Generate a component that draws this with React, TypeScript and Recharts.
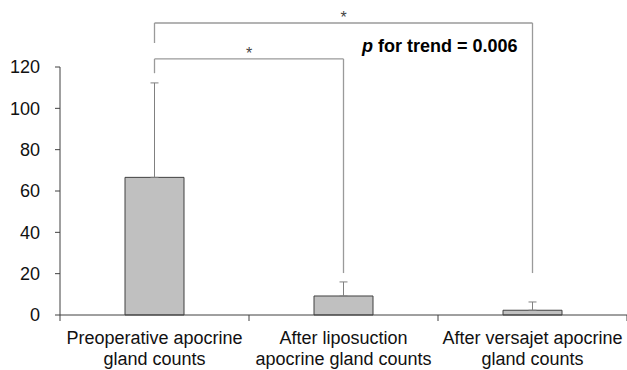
import React from "react";
import { Bar, BarChart, ErrorBar, ReferenceLine, XAxis, YAxis } from "recharts";

const FONT = "'Liberation Sans', Arial, sans-serif";
const GRIS = "#c0c0c0";
const BORDE = "#404040";
const LINEA = "#9a9a9a";

const categorias = [
  ["Preoperative apocrine", "gland counts"],
  ["After liposuction", "apocrine gland counts"],
  ["After versajet apocrine", "gland counts"],
];
const medias = [66.6, 9.2, 2.3];
const desviaciones = [45.7, 6.8, 4.0];
const ticksY = [0, 20, 40, 60, 80, 100, 120];

// significance brackets: from / to category index, heights in data units
const corchetes = [
  { desde: 0, hasta: 2, alto: 141.3, pieIzq: 131.6, pieDer: 20.3 },
  { desde: 0, hasta: 1, alto: 123.9, pieIzq: 117.0, pieDer: 20.3 },
];

const data = categorias.map((c, i) => ({
  x: i + 0.5,
  media: medias[i],
  err: [0, desviaciones[i]],
}));

const ticksX: number[] = [];
for (let i = 0; i <= categorias.length; i++) {
  ticksX.push(i);
  if (i < categorias.length) ticksX.push(i + 0.5);
}

function TickX({ x, y, payload }: any) {
  const v = payload.value;
  if (Number.isInteger(v)) {
    return <line x1={x} x2={x} y1={y} y2={y + 6} stroke={BORDE} strokeWidth={1} />;
  }
  const lineas = categorias[Math.floor(v)];
  return (
    <text x={x} y={y} textAnchor="middle" fontSize={18} fontFamily={FONT} fill="#111">
      <tspan x={x} dy={29}>{lineas[0]}</tspan>
      <tspan x={x} dy={21}>{lineas[1]}</tspan>
    </text>
  );
}

export default function App() {
  return (
    <div style={{ position: "relative", width: 627, height: 370 }}>
      <style>{`body{margin:0}`}</style>
      <BarChart width={627} height={370} data={data} margin={{ top: 67, right: 0, left: 0, bottom: 0 }}>
        <XAxis
          dataKey="x"
          type="number"
          domain={[0, categorias.length]}
          ticks={ticksX}
          interval={0}
          tick={<TickX />}
          tickLine={false}
          tickSize={0}
          tickMargin={0}
          height={55}
          axisLine={{ stroke: BORDE }}
        />
        <YAxis
          domain={[0, 120]}
          ticks={ticksY}
          width={60}
          tickSize={5}
          tickMargin={15}
          axisLine={{ stroke: BORDE }}
          tickLine={{ stroke: BORDE }}
          tick={{ fontSize: 18, fontFamily: FONT, fill: "#111" }}
        />
        <Bar dataKey="media" barSize={59} fill={GRIS} stroke={BORDE} strokeWidth={1} isAnimationActive={false}>
          <ErrorBar dataKey="err" direction="y" width={4} stroke="#808080" strokeWidth={1} isAnimationActive={false} />
        </Bar>
        {corchetes.map((c, i) => (
          <React.Fragment key={i}>
            <ReferenceLine
              ifOverflow="visible"
              stroke={LINEA}
              strokeWidth={1.3}
              segment={[{ x: c.desde + 0.5, y: c.pieIzq }, { x: c.desde + 0.5, y: c.alto }]}
            />
            <ReferenceLine
              ifOverflow="visible"
              stroke={LINEA}
              strokeWidth={1.3}
              segment={[{ x: c.desde + 0.5, y: c.alto }, { x: c.hasta + 0.5, y: c.alto }]}
              label={{ value: "*", position: "top", offset: 0, fontSize: 16, fontFamily: FONT, fill: "#444" }}
            />
            <ReferenceLine
              ifOverflow="visible"
              stroke={LINEA}
              strokeWidth={1.3}
              segment={[{ x: c.hasta + 0.5, y: c.alto }, { x: c.hasta + 0.5, y: c.pieDer }]}
            />
          </React.Fragment>
        ))}
      </BarChart>
      <div
        style={{
          position: "absolute",
          left: 362,
          top: 37,
          fontFamily: FONT,
          fontSize: 18,
          lineHeight: "18px",
          fontWeight: "bold",
          color: "#000",
          whiteSpace: "nowrap",
        }}
      >
        <i>p</i> for trend = 0.006
      </div>
    </div>
  );
}
